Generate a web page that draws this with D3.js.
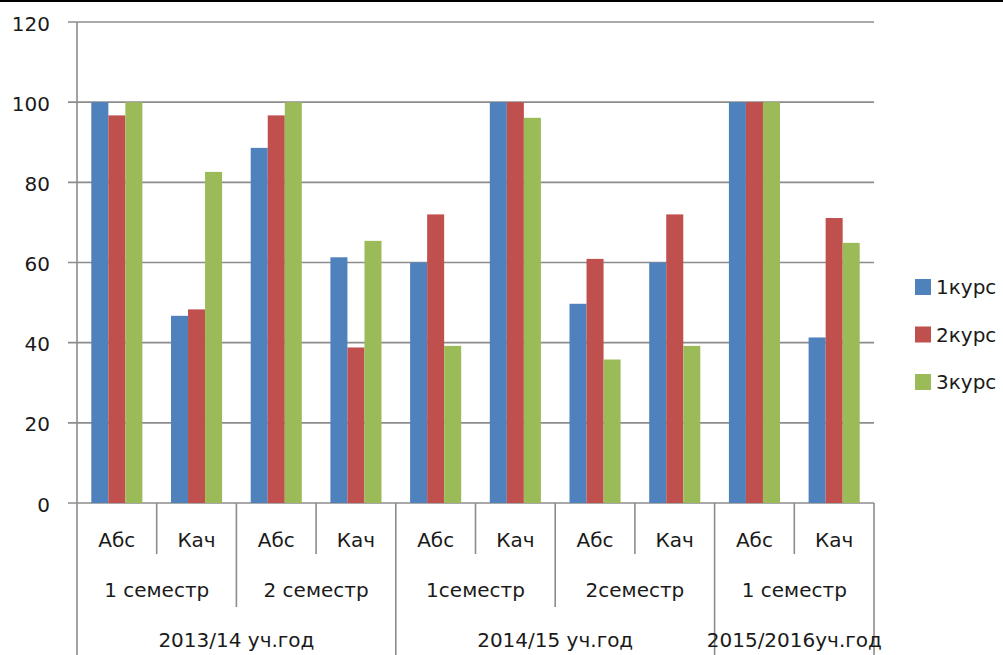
<!DOCTYPE html>
<html>
<head>
<meta charset="utf-8">
<script src="https://cdn.jsdelivr.net/npm/d3@7"></script>
<style>
  html, body { margin: 0; padding: 0; background: #fff; }
  svg { display: block; }
  text { font-family: "DejaVu Sans", sans-serif; font-size: 20px; fill: #1a1a1a; }
</style>
</head>
<body>
<svg id="chart" width="1003" height="655"></svg>
<script>
// ---- data ----
const categories = ["Абс","Кач","Абс","Кач","Абс","Кач","Абс","Кач","Абс","Кач"];
const semesterLabels = ["1 семестр","2 семестр","1семестр","2семестр","1 семестр"];
const categorySemester = [0,0,1,1,2,2,3,3,4,4];
const yearLabels = ["2013/14 уч.год","2014/15 уч.год","2015/2016уч.год"];
const categoryYear = [0,0,0,0,1,1,1,1,2,2];
const seriesNames = ["1курс","2курс","3курс"];
const kurs1 = [100, 46.7, 88.6, 61.3, 60, 100, 49.7, 60, 100, 41.3];
const kurs2 = [96.7, 48.3, 96.7, 38.8, 72, 100, 60.9, 72, 100, 71.1];
const kurs3 = [100, 82.6, 100, 65.4, 39.2, 96.1, 35.8, 39.2, 100, 64.9];
const yTicks = [0, 20, 40, 60, 80, 100, 120];
const colors = ["#4F81BD", "#C0504D", "#9BBB59"];

(function () {
// ---- layout ----
const svg = d3.select("#chart");
const W = 1003, H = 655;
const pLeft = 77, pRight = 874, pTop = 22, pBottom = 503;
const gridColor = "#8c8c8c";

svg.append("rect").attr("width", W).attr("height", H).attr("fill", "#fff");
svg.append("rect").attr("x", 0).attr("y", 0).attr("width", W).attr("height", 2).attr("fill", "#000");

const idx = d3.range(categories.length);
const x = d3.scaleBand().domain(idx).range([pLeft, pRight]).paddingInner(0).paddingOuter(0);
const x1 = d3.scaleBand().domain(d3.range(seriesNames.length)).range([0, x.bandwidth()]).paddingInner(0).paddingOuter(0.84);
const y = d3.scaleLinear().domain([0, 120]).range([pBottom, pTop]);

// gridlines + outer ticks
svg.append("g").selectAll("line").data(yTicks).join("line")
  .attr("x1", pLeft - 9).attr("x2", pRight)
  .attr("y1", d => y(d)).attr("y2", d => y(d))
  .attr("stroke", gridColor).attr("stroke-width", 1.6);

// y axis labels
const yAxis = d3.axisLeft(y).tickValues(yTicks).tickSize(0).tickPadding(27);
const gy = svg.append("g").attr("transform", `translate(${pLeft},0)`).call(yAxis);
gy.select(".domain").remove();
gy.selectAll("text").style("font-family", "DejaVu Sans, sans-serif").style("font-size", "20px").attr("fill", "#1a1a1a").attr("dy", "0.4em");

// bars
const series = [kurs1, kurs2, kurs3];
series.forEach((vals, s) => {
  svg.append("g").selectAll("rect").data(vals).join("rect")
    .attr("x", (d, i) => x(i) + x1(s))
    .attr("width", x1.bandwidth())
    .attr("y", d => y(d))
    .attr("height", d => y(0) - y(d))
    .attr("fill", colors[s]);
});

// axis line
svg.append("line").attr("x1", pLeft).attr("x2", pLeft).attr("y1", pTop).attr("y2", H)
  .attr("stroke", gridColor).attr("stroke-width", 1.6);

// hierarchical category axis
const g = svg.append("g");
idx.slice(1).concat([categories.length]).forEach(i => {
  let yEnd;
  const xi = i < categories.length ? x(i) : pRight;
  if (i === categories.length || categoryYear[i] !== categoryYear[i - 1]) yEnd = H;
  else if (categorySemester[i] !== categorySemester[i - 1]) yEnd = 607;
  else yEnd = 554;
  g.append("line").attr("x1", xi).attr("x2", xi).attr("y1", pBottom).attr("y2", yEnd)
    .attr("stroke", gridColor).attr("stroke-width", 1.6);
});

g.selectAll("text.cat").data(categories).join("text").attr("class", "cat")
  .attr("x", (d, i) => x(i) + x.bandwidth() / 2).attr("y", 540).attr("dy", "0.36em")
  .attr("text-anchor", "middle").text(d => d);

semesterLabels.forEach((lab, s) => {
  const cats = idx.filter(i => categorySemester[i] === s);
  const cx = (x(cats[0]) + x(cats[cats.length - 1]) + x.bandwidth()) / 2;
  g.append("text").attr("x", cx).attr("y", 590).attr("dy", "0.36em").attr("text-anchor", "middle").text(lab);
});

yearLabels.forEach((lab, s) => {
  const cats = idx.filter(i => categoryYear[i] === s);
  const cx = (x(cats[0]) + x(cats[cats.length - 1]) + x.bandwidth()) / 2;
  g.append("text").attr("x", cx).attr("y", 640).attr("dy", "0.36em").attr("text-anchor", "middle").text(lab);
});

// legend
const lg = svg.append("g");
seriesNames.forEach((n, i) => {
  const cy = 287 + i * 47.5;
  lg.append("rect").attr("x", 915).attr("y", cy - 8).attr("width", 16).attr("height", 16).attr("fill", colors[i]);
  lg.append("text").attr("x", 936).attr("y", cy).attr("dy", "0.36em").attr("fill", "#000").text(n);
});
})();
</script>
</body>
</html>
